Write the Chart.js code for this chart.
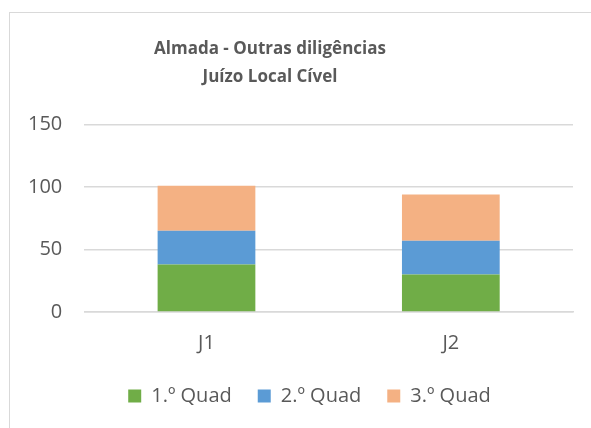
<!DOCTYPE html>
<html>
<head>
<meta charset="utf-8">
<script src="https://cdn.jsdelivr.net/npm/chart.js@4"></script>
<style>
  html, body { margin: 0; padding: 0; background: #fff; overflow: hidden; }
  #frame { position: absolute; left: 9px; top: 12px; width: 700px; height: 500px; border: 1px solid #d9d9d9; }
  #wrap { position: absolute; left: 0; top: 0; width: 591px; height: 428px; }
</style>
</head>
<body>
<div id="frame"></div>
<div id="wrap"><canvas id="chart" width="591" height="428"></canvas></div>
<script>
// categorias e valores
var categorias = ['J1', 'J2'];
var quad1 = [38, 30];
var quad2 = [27, 27];
var quad3 = [36, 37];
var nomes = ['1.º Quad', '2.º Quad', '3.º Quad'];
var cores = ['#70AD47', '#5B9BD5', '#F4B183'];

var texto = '#595959';
var fonte = "'Open Sans', sans-serif";

// título centrado na moldura, legenda um pouco mais à direita (como no original)
var posicoes = {
    id: 'posicoes',
    afterLayout: function(chart) {
        if (chart.titleBlock) chart.titleBlock.right -= 39;
        if (chart.legend) {
            chart.legend.left += 20;
            chart.legend.right += 20;
        }
    }
};

new Chart(document.getElementById('chart').getContext('2d'), {
    type: 'bar',
    data: {
        labels: categorias,
        datasets: [
            { label: nomes[0], data: quad1, backgroundColor: cores[0] },
            { label: nomes[1], data: quad2, backgroundColor: cores[1] },
            { label: nomes[2], data: quad3, backgroundColor: cores[2] }
        ]
    },
    plugins: [posicoes],
    options: {
        responsive: false,
        animation: false,
        layout: { padding: { left: 6, right: 18, top: 36, bottom: 12 } },
        datasets: { bar: { categoryPercentage: 0.8, barPercentage: 0.5 } },
        plugins: {
            title: {
                display: true,
                text: ['Almada - Outras diligências', 'Juízo Local Cível'],
                color: texto,
                font: { family: fonte, size: 17, weight: 'bold', lineHeight: 1.6 },
                padding: { top: 0, bottom: 34 }
            },
            legend: {
                position: 'bottom',
                labels: {
                    color: texto,
                    font: { family: fonte, size: 20 },
                    boxWidth: 13,
                    boxHeight: 13,
                    padding: 26
                }
            },
            tooltip: { enabled: false }
        },
        scales: {
            x: {
                stacked: true,
                grid: { display: false },
                border: { display: true, color: '#d9d9d9', width: 1.5 },
                ticks: { color: texto, font: { family: fonte, size: 20 }, padding: 11 },
                afterFit: function(scale) { scale.height -= 6; }
            },
            y: {
                stacked: true,
                min: 0,
                max: 150,
                ticks: { stepSize: 50, color: texto, font: { family: fonte, size: 20 }, padding: 22 },
                grid: { color: '#d9d9d9', lineWidth: 1.5, drawTicks: false },
                border: { display: false }
            }
        }
    }
});
</script>
</body>
</html>
